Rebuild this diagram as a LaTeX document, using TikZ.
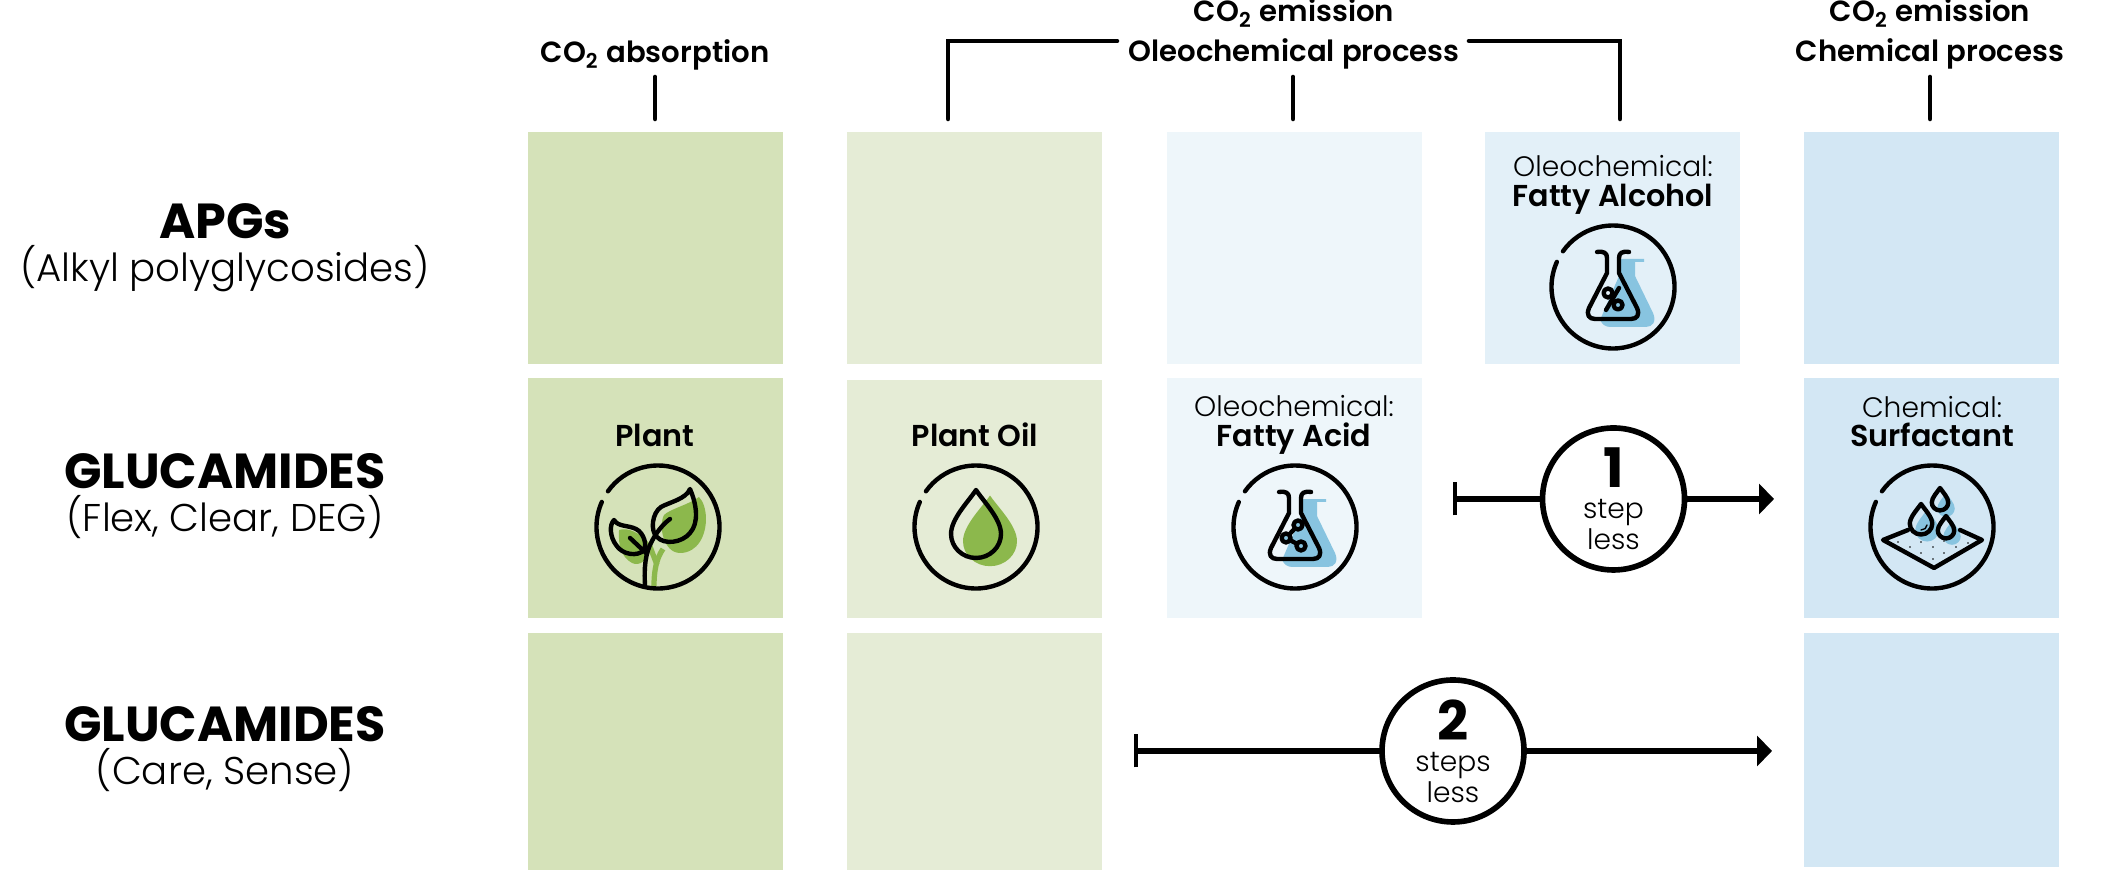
\documentclass[tikz,border=0pt]{standalone}
\usepackage{fontspec}
\setmainfont{Poppins}[UprightFont=* Light,BoldFont=* SemiBold]
\newfontfamily\heavyfont{Poppins}[UprightFont=* Bold]
\usetikzlibrary{arrows.meta}
\usetikzlibrary{positioning}
\pgfdeclarelayer{nodelayer}
\pgfdeclarelayer{edgelayer}
\pgfsetlayers{edgelayer,nodelayer,main}
\definecolor{plantdark}{HTML}{D5E2B9}
\definecolor{plantlight}{HTML}{E5ECD6}
\definecolor{oleolight}{HTML}{EEF6FA}
\definecolor{oleomid}{HTML}{E3F0F8}
\definecolor{chemdark}{HTML}{D3E7F4}
\definecolor{leaf}{HTML}{8CB84C}
\definecolor{liquid}{HTML}{88C4E0}
\newcommand{\stepnum}[1]{{\fontsize{15.5}{12}\selectfont\heavyfont #1}}
\newcommand{\dropshape}{(0,-37) .. controls (-8,-25) and (-25,-8) .. (-25,7) .. controls (-25,20) and (-14,31) .. (0,31) .. controls (14,31) and (25,20) .. (25,7) .. controls (25,-8) and (8,-25) .. (0,-37) -- cycle}
\newcommand{\flaskshape}{(-16,-35) .. controls (-9,-36) and (-6,-34) .. (-6,-29) -- (-6,-14) -- (-24,21) .. controls (-27,28) and (-24,32) .. (-18,32) -- (18,32) .. controls (24,32) and (27,28) .. (24,21) -- (6,-14) -- (6,-29) .. controls (6,-34) and (9,-36) .. (16,-35)}
\newcommand{\flaskfill}{(10,-28) -- (31,-28) -- (31,-25) -- (22,-25) -- (22,-11) -- (40,26) .. controls (44,35) and (39,40) .. (33,40) -- (-3,40) .. controls (-8,40) and (-11,37) .. (-13,33) -- (6,-11) -- (6,-28) -- cycle}
\tikzset{px/.style={x=.01cm,y=-.01cm}}
\tikzset{icon/.style={draw=black, line width=1.25pt, line cap=round, line join=round}}
\tikzset{cell/.style={inner sep=0pt, outer sep=0pt, minimum width=2.55cm}}
\tikzset{stepcirc/.style={shape=circle, draw=black, fill=white, line width=1.6pt, inner sep=0pt, minimum size=1.42cm, align=center, font=\fontsize{8}{8.8}\selectfont}}
\tikzset{rail/.style={line width=1.45pt, {Bar[width=.33cm,line width=1.2pt]}-{Triangle[length=.15cm,width=.3cm]}}}
\tikzset{ticks/.style={line width=1.3pt, line cap=round}}
\tikzset{txt/.style={inner sep=0pt, anchor=base, align=center}}
\tikzset{lblhead/.style={txt, font=\fontsize{8.3}{8}\selectfont\bfseries}}
\tikzset{lblthin/.style={txt, font=\fontsize{8}{8}\selectfont}}
\tikzset{lblname/.style={txt, font=\fontsize{8.6}{8}\selectfont\bfseries}}
\tikzset{lblbig/.style={txt, font=\fontsize{14}{12}\selectfont\heavyfont}}
\tikzset{lblsub/.style={txt, font=\fontsize{11}{9}\selectfont}}
\tikzset{ring/.pic={\draw [icon] (156:.615) arc [start angle=156, end angle=504.5, radius=.615];}}
\tikzset{oildrop/.pic={
\begin{scope}[px]
\fill [leaf, shift={(14,7)}, yscale=1.04, xscale=1.08] \dropshape;
\draw [icon] \dropshape;
\end{scope}
\pic {ring};
}}
\tikzset{sprout/.pic={
\begin{scope}[px]
\fill [leaf] (41,-30) .. controls (30,-22) and (12,-18) .. (6,-12) .. controls (0,0) and (6,26) .. (22,26) .. controls (40,26) and (48,8) .. (48,-8) .. controls (48,-18) and (45,-26) .. (41,-30) -- cycle;
\fill [leaf] (-39,3) .. controls (-40,18) and (-37,30) .. (-26,36) .. controls (-18,40) and (-10,32) .. (-8,24) -- (-9,16) .. controls (-18,6) and (-30,0) .. (-39,3) -- cycle;
\draw [leaf, line width=1.5pt] (-4,59) .. controls (-4,45) and (-2,32) .. (5,22);
\draw [leaf, line width=1.5pt] (-9,17) -- (-1,38);
\draw [icon] (32,-38) .. controls (28,-28) and (12,-25) .. (3,-20) .. controls (-6,-14) and (-8,4) .. (-1,10) .. controls (6,18) and (24,16) .. (32,6) .. controls (41,-4) and (39,-22) .. (32,-38) -- cycle;
\draw [icon] (-13,58) .. controls (-14,42) and (-13,26) .. (-6,14) .. controls (-2,6) and (5,-3) .. (12,-8);
\draw [icon] (-44,-7) .. controls (-40,0) and (-30,-2) .. (-22,2) .. controls (-14,6) and (-11,18) .. (-14,23) .. controls (-20,30) and (-36,28) .. (-42,18) .. controls (-48,10) and (-49,-2) .. (-44,-7) -- cycle;
\draw [icon] (-28,11) -- (-11,27);
\end{scope}
\pic {ring};
}}
\tikzset{flaskpct/.pic={
\begin{scope}[px]
\fill [liquid] \flaskfill;
\draw [icon] \flaskshape;
\draw [icon] (6,1) -- (-7,23);
\draw [icon] (-5,6) circle (4.5);
\draw [icon] (5,18) circle (4.5);
\end{scope}
\pic {ring};
}}
\tikzset{flaskmol/.pic={
\begin{scope}[px]
\fill [liquid] \flaskfill;
\draw [icon] \flaskshape;
\draw [icon] (3,-2) -- (-9,11) -- (6,19);
\draw [icon, fill=liquid] (3,-2) circle (4.5);
\draw [icon, fill=liquid] (-9,11) circle (4.5);
\draw [icon, fill=liquid] (6,19) circle (4.5);
\end{scope}
\pic {ring};
}}
\tikzset{wetcloth/.pic={
\begin{scope}[px]
\fill [liquid, shift={(-5,0)}, scale=.47] \dropshape;
\fill [liquid, shift={(14,-21)}, scale=.35] \dropshape;
\fill [liquid, shift={(20,7)}, scale=.35] \dropshape;
\draw [icon] (-24,3) -- (-49,13) -- (2,41) -- (50,13) -- (28,3);
\draw [icon] [shift={(-11,-6.4)}, scale=.45] \dropshape;
\draw [icon] [shift={(8,-26.8)}, scale=.33] \dropshape;
\draw [icon] [shift={(14,1.2)}, scale=.33] \dropshape;
\draw [line width=.4pt, line cap=round] (-5,-2) .. controls (-5,1) and (-8,3) .. (-11,3);
\foreach \i/\j in {-34/15,-11/15,12/14,36/16,-22/20,1/20,24/20,-11/26,12/26,1/32}
\fill (\i,\j) circle (.9);
\end{scope}
\pic {ring};
}}
\begin{document}
\begin{tikzpicture}
\useasboundingbox (0,0) rectangle (21.17,8.70);
        \begin{pgfonlayer}{nodelayer}
            \node [style=cell, fill=plantdark, minimum height=2.32cm] (0) at (6.555, 6.22) {};
            \node [style=cell, fill=plantlight, minimum height=2.32cm] (1) at (9.745, 6.22) {};
            \node [style=cell, fill=oleolight, minimum height=2.32cm] (2) at (12.94, 6.22) {};
            \node [style=cell, fill=oleomid, minimum height=2.32cm] (3) at (16.125, 6.22) {};
            \node [style=cell, fill=chemdark, minimum height=2.32cm] (4) at (19.315, 6.22) {};
            \node [style=cell, fill=plantdark, minimum height=2.40cm] (5) at (6.555, 3.72) {};
            \node [style=cell, fill=plantlight, minimum height=2.38cm] (6) at (9.745, 3.71) {};
            \node [style=cell, fill=oleolight, minimum height=2.40cm] (7) at (12.94, 3.72) {};
            \node [style=cell, fill=chemdark, minimum height=2.40cm] (8) at (19.315, 3.72) {};
            \node [style=cell, fill=plantdark, minimum height=2.37cm] (9) at (6.555, 1.185) {};
            \node [style=cell, fill=plantlight, minimum height=2.37cm] (10) at (9.745, 1.185) {};
            \node [style=cell, fill=chemdark, minimum height=2.34cm] (11) at (19.315, 1.20) {};
            \node [style=lblhead] (12) at (6.55, 8.07) {CO\textsubscript{2} absorption};
            \node [style=lblhead] (13) at (12.94, 8.48) {CO\textsubscript{2} emission};
            \node [style=lblhead] (14) at (12.94, 8.08) {Oleochemical process};
            \node [style=lblhead] (15) at (19.30, 8.48) {CO\textsubscript{2} emission};
            \node [style=lblhead] (16) at (19.30, 8.08) {Chemical process};
            \node [style=lblbig] (17) at (2.25, 6.31) {APGs};
            \node [style=lblsub] (18) at (2.25, 5.88) {(Alkyl polyglycosides)};
            \node [style=lblbig] (19) at (2.25, 3.81) {GLUCAMIDES};
            \node [style=lblsub] (20) at (2.25, 3.38) {(Flex, Clear, DEG)};
            \node [style=lblbig] (21) at (2.25, 1.28) {GLUCAMIDES};
            \node [style=lblsub] (22) at (2.25, 0.85) {(Care, Sense)};
            \node [style=lblname] (23) at (6.55, 4.23) {Plant};
            \node [style=lblname] (24) at (9.75, 4.23) {Plant Oil};
            \node [style=lblthin] (25) at (16.13, 6.93) {Oleochemical:};
            \node [style=lblname] (26) at (16.13, 6.63) {Fatty Alcohol};
            \node [style=lblthin] (27) at (12.94, 4.53) {Oleochemical:};
            \node [style=lblname] (28) at (12.94, 4.23) {Fatty Acid};
            \node [style=lblthin] (29) at (19.32, 4.52) {Chemical:};
            \node [style=lblname] (30) at (19.32, 4.23) {Surfactant};
            \node [style=stepcirc] (31) at (16.135, 3.71) {\stepnum{1}\\step\\less};
            \node [style=stepcirc] (32) at (14.53, 1.19) {\stepnum{2}\\steps\\less};
            \coordinate (40) at (14.53, 3.71);
            \coordinate (41) at (17.74, 3.71);
            \coordinate (42) at (11.34, 1.19);
            \coordinate (43) at (17.72, 1.19);
            \coordinate (44) at (9.48, 7.51);
            \coordinate (45) at (9.48, 8.29);
            \coordinate (46) at (11.17, 8.29);
            \coordinate (47) at (16.20, 7.51);
            \coordinate (48) at (16.20, 8.29);
            \coordinate (49) at (14.69, 8.29);
            \coordinate (50) at (6.55, 7.51);
            \coordinate (51) at (6.55, 7.93);
            \coordinate (52) at (12.93, 7.51);
            \coordinate (53) at (12.93, 7.93);
            \coordinate (54) at (19.30, 7.51);
            \coordinate (55) at (19.30, 7.93);
        \end{pgfonlayer}
        \begin{pgfonlayer}{edgelayer}
            \draw [style=ticks] (44) to (45) to (46);
            \draw [style=ticks] (47) to (48) to (49);
            \draw [style=ticks] (50) to (51);
            \draw [style=ticks] (52) to (53);
            \draw [style=ticks] (54) to (55);
            \draw [style=rail] (40) to (41);
            \draw [style=rail] (42) to (43);
        \end{pgfonlayer}
        \pic at (6.58, 3.43) {sprout};
        \pic at (9.76, 3.43) {oildrop};
        \pic at (16.13, 5.83) {flaskpct};
        \pic at (12.95, 3.43) {flaskmol};
        \pic at (19.32, 3.43) {wetcloth};
    \end{tikzpicture}
\end{document}
